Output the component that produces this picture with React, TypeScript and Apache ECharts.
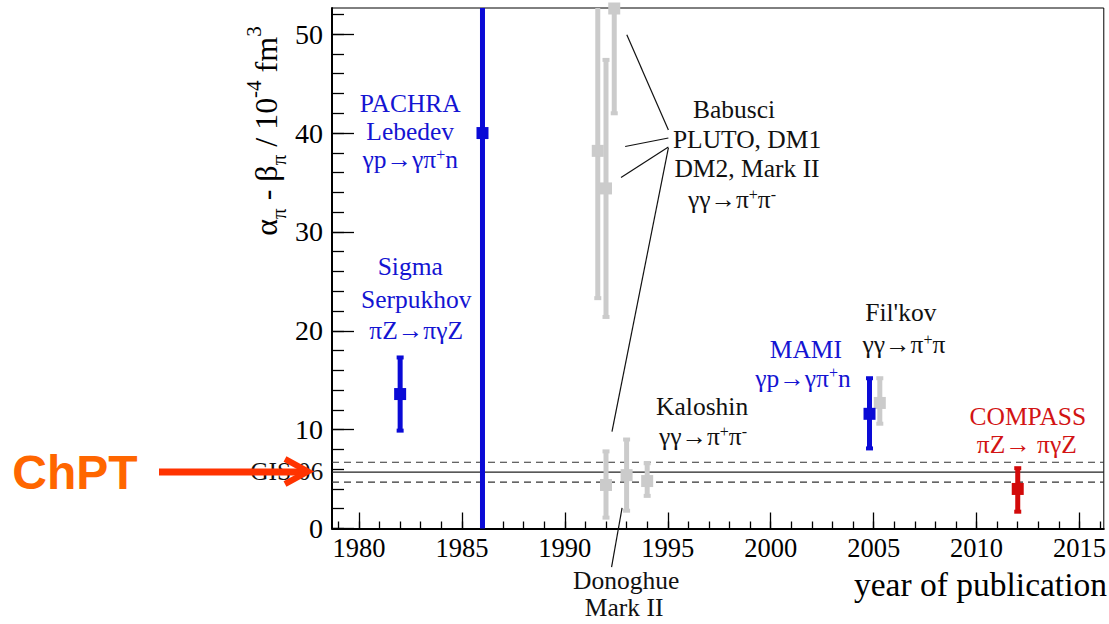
import React, { useEffect, useRef } from "react";
import * as echarts from "echarts";

// Axis extents: publication year and alpha_pi - beta_pi (10^-4 fm^3)
const yearMin = 1978.69;
const yearMax = 2016.18;
const diffMin = 0;
const diffMax = 52.65;

const majorYearTicks = [1980, 1985, 1990, 1995, 2000, 2005, 2010, 2015];
const minorYearTicks = [
  1979, 1980, 1981, 1982, 1983, 1984, 1985, 1986, 1987, 1988, 1989, 1990, 1991,
  1992, 1993, 1994, 1995, 1996, 1997, 1998, 1999, 2000, 2001, 2002, 2003, 2004,
  2005, 2006, 2007, 2008, 2009, 2010, 2011, 2012, 2013, 2014, 2015, 2016,
];
const majorDiffTicks = [0, 10, 20, 30, 40, 50];
const minorDiffTicks = [
  0, 2, 4, 6, 8, 10, 12, 14, 16, 18, 20, 22, 24, 26, 28, 30, 32, 34, 36, 38, 40,
  42, 44, 46, 48, 50, 52,
];

// Radiative pion photoproduction / Primakoff results (Serpukhov, PACHRA, MAMI)
const blueYears = [1982, 1986, 2004.8];
const blueValues = [13.6, 40.0, 11.6];
const blueLow = [9.9, 0.0, 8.1];
const blueHigh = [17.3, 64.0, 15.2];

// gamma gamma -> pi+ pi- analyses (Babusci, Donoghue, Kaloshin, Fil'kov)
const greyYears = [1991.6, 1992.0, 1992.4, 1992.0, 1993.0, 1994.0, 2005.3];
const greyValues = [38.2, 34.4, 52.6, 4.4, 5.4, 4.8, 12.7];
const greyLow = [23.3, 21.4, 42.0, 1.1, 1.8, 3.3, 10.6];
const greyHigh = [53.5, 47.4, 63.0, 7.8, 9.0, 6.6, 15.2];

// COMPASS Primakoff measurement
const redYears = [2012];
const redValues = [4.0];
const redLow = [1.7];
const redHigh = [6.1];

// ChPT prediction (GIS 06): central value and band
const chptCentral = 5.7;
const chptLow = 4.7;
const chptHigh = 6.7;

// Annotations, anchored in data coordinates
const noteTexts = [
  "PACHRA",
  "Lebedev",
  "γp→γπ{sup|+}n",
  "Sigma",
  "Serpukhov",
  "πZ→πγZ",
  "Babusci",
  "PLUTO, DM1",
  "DM2, Mark II",
  "γγ→π{sup|+}π{sup|-}",
  "Kaloshin",
  "γγ→π{sup|+}π{sup|-}",
  "Fil'kov",
  "γγ→π{sup|+}π",
  "MAMI",
  "γp→γπ{sup|+}n",
  "COMPASS",
  "πZ→ πγZ",
  "Donoghue",
  "Mark II",
  "GIS 06",
];
const noteYears = [
  1982.49, 1982.49, 1982.49, 1982.49, 1982.78, 1982.78, 1998.22, 1998.85,
  1998.85, 1998.12, 1996.67, 1996.71, 2006.32, 2006.47, 2001.71, 2001.57,
  2012.49, 2012.44, 1992.98, 1992.88, 1978.26,
];
const noteValues = [
  43.04, 40.16, 37.3, 26.5, 23.13, 19.99, 42.36, 39.32, 36.42, 33.25, 12.3,
  9.26, 21.81, 18.57, 18.07, 15.2, 11.32, 8.45, -5.21, -7.95, 5.75,
];
const noteKinds = [
  "blue", "blue", "blue", "blue", "blue", "blue", "black", "black", "black",
  "black", "black", "black", "black", "black", "blue", "blue", "red", "red",
  "black", "black", "black",
];

// Leader lines joining grouped labels to their points
const leaderFromYear = [1993.01, 1992.93, 1992.73, 1995.03, 1992.78];
const leaderFromValue = [49.95, 38.64, 35.5, 38.5, 2.08];
const leaderToYear = [1995.03, 1995.03, 1995.03, 1992.29, 1992.27];
const leaderToValue = [40.3, 39.5, 38.6, 9.8, -3.9];

const SERIF = "Liberation Serif";
const SANS = "Liberation Sans";
const BLUE = "#0a0ad6";
const GREY = "#cbcbcb";
const RED = "#d20a0a";
const TEXT_COLORS: Record<string, string> = {
  blue: "#1414d2",
  black: "#111111",
  red: "#d21414",
};

function pointsOf(xs: number[], vs: number[], lo: number[], hi: number[]) {
  return xs.map((x, i) => [x, vs[i], lo[i], hi[i]]);
}

function errorBarRenderer(color: string, barWidth: number, box: number) {
  return (params: any, api: any) => {
    const cs = params.coordSys;
    const x = api.value(0);
    const c = api.coord([x, api.value(1)]);
    const pLo = api.coord([x, api.value(2)]);
    const pHi = api.coord([x, api.value(3)]);
    const top = Math.max(pHi[1], cs.y);
    const bottom = Math.min(pLo[1], cs.y + cs.height);
    const children: any[] = [
      {
        type: "line",
        shape: { x1: c[0], y1: top, x2: c[0], y2: bottom },
        style: { stroke: color, lineWidth: barWidth },
      },
    ];
    if (pHi[1] > cs.y + 2) {
      children.push({
        type: "rect",
        shape: { x: c[0] - 3.5, y: pHi[1] - 2, width: 7, height: 4 },
        style: { fill: color },
      });
    }
    if (pLo[1] < cs.y + cs.height - 2) {
      children.push({
        type: "rect",
        shape: { x: c[0] - 3.5, y: pLo[1] - 2, width: 7, height: 4 },
        style: { fill: color },
      });
    }
    children.push({
      type: "rect",
      shape: { x: c[0] - box / 2, y: c[1] - box / 2, width: box, height: box },
      style: { fill: color },
    });
    return { type: "group", children };
  };
}

function hLine(value: number, dashed: boolean) {
  return {
    type: "line",
    data: [
      [yearMin, value],
      [yearMax, value],
    ],
    symbol: "none",
    silent: true,
    z: 1,
    lineStyle: dashed
      ? { color: "#333", width: 1.2, type: [7, 5] }
      : { color: "#222", width: 1.3, type: "solid" },
  };
}

function buildOption(): any {
  const tickStyle = { color: "#000", width: 1.3 };
  return {
    animation: false,
    backgroundColor: "#fff",
    grid: {
      left: 332,
      top: 8,
      width: 772,
      height: 520.5,
      show: true,
      borderColor: "#000",
      borderWidth: 1,
    },
    xAxis: [
      {
        type: "value",
        min: yearMin,
        max: yearMax,
        position: "bottom",
        axisLine: { show: true, onZero: false, lineStyle: { color: "#000", width: 2 } },
        axisTick: { show: true, inside: true, length: 16, customValues: majorYearTicks, lineStyle: tickStyle },
        axisLabel: {
          show: true,
          customValues: majorYearTicks,
          formatter: (v: number) => String(v),
          fontFamily: SERIF,
          fontSize: 26.5,
          color: "#000",
          margin: 6,
        },
        splitLine: { show: false },
      },
      {
        type: "value",
        min: yearMin,
        max: yearMax,
        position: "bottom",
        axisLine: { show: false },
        axisTick: { show: true, inside: true, length: 7, customValues: minorYearTicks, lineStyle: tickStyle },
        axisLabel: { show: false },
        splitLine: { show: false },
      },
    ],
    yAxis: [
      {
        type: "value",
        min: diffMin,
        max: diffMax,
        position: "left",
        axisLine: { show: true, onZero: false, lineStyle: { color: "#000", width: 2 } },
        axisTick: { show: true, inside: true, length: 22, customValues: majorDiffTicks, lineStyle: tickStyle },
        axisLabel: {
          show: true,
          customValues: majorDiffTicks,
          formatter: (v: number) => String(v),
          fontFamily: SERIF,
          fontSize: 28,
          color: "#000",
          margin: 9,
        },
        splitLine: { show: false },
      },
      {
        type: "value",
        min: diffMin,
        max: diffMax,
        position: "left",
        axisLine: { show: false },
        axisTick: { show: true, inside: true, length: 12, customValues: minorDiffTicks, lineStyle: tickStyle },
        axisLabel: { show: false },
        splitLine: { show: false },
      },
    ],
    graphic: [
      {
        type: "text",
        x: 266,
        y: 131,
        rotation: Math.PI / 2,
        z: 100,
        style: {
          text: "α{s|π} - β{s|π} / 10{p|-4} fm{p|3}",
          fontFamily: SERIF,
          fontSize: 32,
          lineHeight: 46,
          fill: "#000",
          align: "center",
          verticalAlign: "middle",
          rich: {
            s: { fontFamily: SERIF, fontSize: 21, lineHeight: 21, verticalAlign: "bottom" },
            p: { fontFamily: SERIF, fontSize: 21, lineHeight: 21, verticalAlign: "top" },
          },
        },
      },
      {
        type: "text",
        x: 1107,
        y: 584,
        z: 100,
        style: {
          text: "year of publication",
          fontFamily: SERIF,
          fontSize: 33.5,
          fill: "#000",
          align: "right",
          verticalAlign: "middle",
        },
      },
      {
        type: "text",
        x: 75,
        y: 472,
        z: 100,
        style: {
          text: "ChPT",
          fontFamily: SANS,
          fontWeight: "bold",
          fontSize: 48,
          fill: "#ff6600",
          align: "center",
          verticalAlign: "middle",
        },
      },
      {
        type: "line",
        z: 100,
        shape: { x1: 159, y1: 472, x2: 305, y2: 472 },
        style: { stroke: "#ff3300", lineWidth: 7 },
      },
      {
        type: "polyline",
        z: 100,
        shape: { points: [[285, 459], [308, 471.5], [285, 484]] },
        style: { stroke: "#ff3300", lineWidth: 6, fill: null },
      },
    ],
    series: [
      hLine(chptCentral, false),
      hLine(chptLow, true),
      hLine(chptHigh, true),
      {
        type: "custom",
        name: "leaders",
        silent: true,
        z: 2,
        encode: { x: [0, 2], y: [1, 3] },
        data: leaderFromYear.map((x, i) => [x, leaderFromValue[i], leaderToYear[i], leaderToValue[i]]),
        renderItem: (params: any, api: any) => {
          const a = api.coord([api.value(0), api.value(1)]);
          const b = api.coord([api.value(2), api.value(3)]);
          return {
            type: "line",
            shape: { x1: a[0], y1: a[1], x2: b[0], y2: b[1] },
            style: { stroke: "#111", lineWidth: 1.2 },
          };
        },
      },
      {
        type: "custom",
        name: "γγ→π+π−",
        silent: true,
        z: 3,
        encode: { x: 0, y: 1 },
        data: pointsOf(greyYears, greyValues, greyLow, greyHigh),
        renderItem: errorBarRenderer(GREY, 5, 12),
      },
      {
        type: "custom",
        name: "Primakoff / photoproduction",
        silent: true,
        z: 4,
        encode: { x: 0, y: 1 },
        data: pointsOf(blueYears, blueValues, blueLow, blueHigh),
        renderItem: errorBarRenderer(BLUE, 5, 12),
      },
      {
        type: "custom",
        name: "COMPASS",
        silent: true,
        z: 4,
        encode: { x: 0, y: 1 },
        data: pointsOf(redYears, redValues, redLow, redHigh),
        renderItem: errorBarRenderer(RED, 5, 12),
      },
      {
        type: "custom",
        name: "notes",
        silent: true,
        z: 5,
        encode: { x: 0, y: 1 },
        data: noteYears.map((x, i) => [x, noteValues[i]]),
        renderItem: (params: any, api: any) => {
          const i = params.dataIndex;
          const p = api.coord([api.value(0), api.value(1)]);
          return {
            type: "text",
            x: p[0],
            y: p[1],
            style: {
              text: noteTexts[i],
              fill: TEXT_COLORS[noteKinds[i]],
              fontFamily: SERIF,
              fontSize: 25.5,
              lineHeight: 27,
              align: noteTexts[i] === "GIS 06" ? "right" : "center",
              verticalAlign: "middle",
              rich: {
                sup: { fontFamily: SERIF, fontSize: 16, lineHeight: 11, verticalAlign: "top" },
              },
            },
          };
        },
      },
    ],
  };
}

export default function App() {
  const ref = useRef<HTMLDivElement>(null);
  useEffect(() => {
    document.body.style.margin = "0";
    if (!ref.current) return;
    const chart = echarts.init(ref.current, null, { renderer: "svg" });
    chart.setOption(buildOption());
    return () => chart.dispose();
  }, []);
  return <div ref={ref} style={{ width: 1109, height: 624 }} />;
}
